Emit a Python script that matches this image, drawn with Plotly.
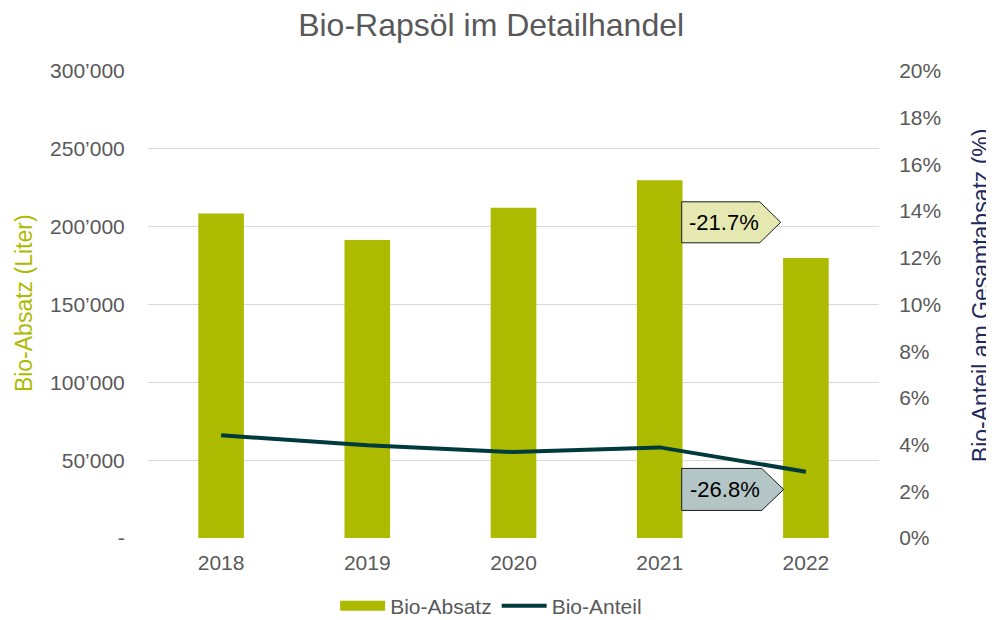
import plotly.graph_objects as go

years = ["2018", "2019", "2020", "2021", "2022"]
absatz = [208400, 191400, 212200, 229800, 179900]          # Liter
anteil = [4.40, 3.97, 3.68, 3.88, 2.84]                    # %

left_ticks = [0, 50000, 100000, 150000, 200000, 250000, 300000]
left_text = ["-", "50’000", "100’000", "150’000", "200’000", "250’000", "300’000"]
right_ticks = [0, 2, 4, 6, 8, 10, 12, 14, 16, 18, 20]
right_text = [f"{v}%" for v in right_ticks]

change_absatz = "-21.7%"
change_anteil = "-26.8%"

GRAY = "#595959"
BAR = "#adbb00"
LINE = "#003a3d"
FONT = "Liberation Sans, Arial, sans-serif"

fig = go.Figure()
fig.add_trace(go.Bar(x=years, y=absatz, name="Bio-Absatz", marker_color=BAR,
                     marker_line_width=0, yaxis="y", showlegend=False))
# legend swatch for the bars (wide rectangle, as in the original)
fig.add_trace(go.Scatter(x=[None], y=[None], name="Bio-Absatz", mode="lines",
                         line=dict(color=BAR, width=11), yaxis="y", showlegend=True))
fig.add_trace(go.Scatter(x=years, y=anteil, name="Bio-Anteil", mode="lines",
                         line=dict(color=LINE, width=4), yaxis="y2"))

# page has an 8px body margin -> figure is 986x612 drawn at (8, 8)
fig.update_layout(
    width=986, height=612,
    margin=dict(l=140, r=115, t=63, b=82, autoexpand=False),
    paper_bgcolor="white", plot_bgcolor="white",
    font=dict(family=FONT, color=GRAY, size=21),
    title=dict(text="Bio-Rapsöl im Detailhandel", x=0.49, xref="container", xanchor="center",
               y=1.0, yref="container", yanchor="top", pad=dict(t=6),
               font=dict(size=32, color=GRAY, family=FONT)),
    bargap=0.688,
    showlegend=True,
    legend=dict(orientation="h", x=0.49, xref="container", xanchor="center",
                y=-0.146, yanchor="middle", font=dict(size=21, color=GRAY),
                itemwidth=45),
    xaxis=dict(type="category", showgrid=False, showline=False, zeroline=False,
               automargin=False, tickangle=0,
               ticks="outside", ticklen=6, tickcolor="rgba(0,0,0,0)",
               tickfont=dict(size=21, color=GRAY)),
    yaxis=dict(range=[0, 300000], tickmode="array", tickvals=left_ticks, ticktext=left_text,
               showgrid=True, gridcolor="#d9d9d9", gridwidth=1, zeroline=False,
               showline=False, automargin=False,
               ticks="outside", ticklen=18, tickcolor="rgba(0,0,0,0)",
               tickfont=dict(size=21, color=GRAY)),
    yaxis2=dict(range=[0, 20], tickmode="array", tickvals=right_ticks, ticktext=right_text,
                overlaying="y", side="right", showgrid=False, zeroline=False,
                showline=False, automargin=False,
                ticks="outside", ticklen=15, tickcolor="rgba(0,0,0,0)",
                tickfont=dict(size=21, color=GRAY)),
    annotations=[
        dict(text="Bio-Absatz (Liter)", textangle=-90, xref="paper", yref="paper",
             x=-0.1696, y=0.503, xanchor="center", yanchor="middle", showarrow=False,
             font=dict(size=23, color=BAR)),
        dict(text="Bio-Anteil am Gesamtabsatz (%)", textangle=-90, xref="paper", yref="paper",
             x=1.1395, y=0.52, xanchor="center", yanchor="middle", showarrow=False,
             font=dict(size=23, color="#1f2a5c")),
        dict(text=change_absatz, xref="x", x=3, xshift=64, yref="paper", y=0.676,
             xanchor="center", yanchor="middle", showarrow=False,
             font=dict(size=22, color="black")),
        dict(text=change_anteil, xref="x", x=3, xshift=65, yref="paper", y=0.104,
             xanchor="center", yanchor="middle", showarrow=False,
             font=dict(size=22, color="black")),
    ],
    shapes=[
        dict(type="path", xref="x", xsizemode="pixel", xanchor=3,
             yref="paper", ysizemode="pixel", yanchor=0.676,
             path="M22,-20.5 L100,-20.5 L121,0 L100,20.5 L22,20.5 Z",
             fillcolor="#e5e8b1", line=dict(color="#1a1a1a", width=1), layer="above"),
        dict(type="path", xref="x", xsizemode="pixel", xanchor=3,
             yref="paper", ysizemode="pixel", yanchor=0.104,
             path="M22,-21 L102,-21 L124,0 L102,21 L22,21 Z",
             fillcolor="#b4c5c5", line=dict(color="#1a1a1a", width=1), layer="above"),
    ],
)

fig.write_html("out.html")
